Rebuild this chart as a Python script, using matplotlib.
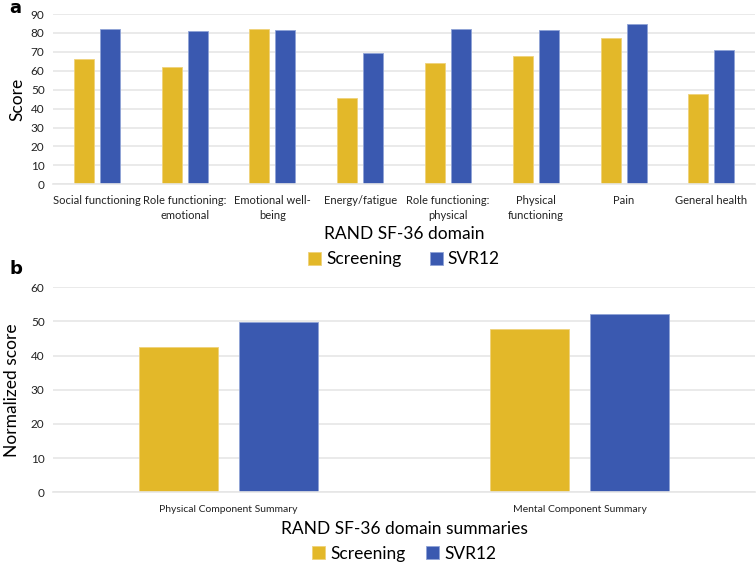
import matplotlib.pyplot as plt
import numpy as np

# panel a data
dominios = ['Social functioning', 'Role functioning:\nemotional', 'Emotional well-\nbeing',
            'Energy/fatigue', 'Role functioning:\nphysical', 'Physical\nfunctioning',
            'Pain', 'General health']
screening_a = [66.1, 62.1, 81.9, 45.8, 64.3, 67.9, 77.5, 47.8]
svr12_a = [82.3, 81.1, 81.5, 69.5, 82.2, 81.5, 84.8, 70.9]

# panel b data
resumos = ['Physical Component Summary', 'Mental Component Summary']
screening_b = [42.4, 47.8]
svr12_b = [49.8, 52.3]

amarelo = '#E3B829'
azul = '#3A59B0'
grade = '#E6E6E6'

plt.rcParams['font.family'] = ['Lato', 'DejaVu Sans']

fig = plt.figure(figsize=(7.56, 5.63), dpi=100)
ax1 = fig.add_axes([0.070, 0.6726, 0.929, 0.3025])
ax2 = fig.add_axes([0.070, 0.1256, 0.929, 0.3641])


def estilo(ax, ymax, passo):
    ax.set_ylim(0, ymax)
    ax.set_yticks(np.arange(0, ymax + 1, passo))
    ax.yaxis.grid(True, color=grade, linewidth=1.2)
    ax.set_axisbelow(True)
    for lado in ['top', 'right', 'left']:
        ax.spines[lado].set_visible(False)
    ax.spines['bottom'].set_color(grade)
    ax.spines['bottom'].set_linewidth(1.2)
    ax.tick_params(axis='both', length=0, colors='#222222')
    ax.tick_params(axis='y', labelsize=8.5, pad=6)


# painel a
x = np.arange(len(dominios))
w = 0.228
ax1.bar(x - 0.148, screening_a, w, color=amarelo, edgecolor='#EFD27A', linewidth=0.6, label='Screening')
ax1.bar(x + 0.148, svr12_a, w, color=azul, edgecolor='#8FA3D6', linewidth=0.6, label='SVR12')
ax1.set_xlim(-0.5, len(dominios) - 0.5)
estilo(ax1, 90, 10)
ax1.set_xticks(x)
ax1.set_xticklabels(dominios, fontsize=8, linespacing=1.35)
ax1.tick_params(axis='x', pad=8)
ax1.set_ylabel('Score', fontsize=12.5, labelpad=4)
ax1.set_xlabel('RAND SF-36 domain', fontsize=12.5, labelpad=4)
ax1.legend(loc='center', bbox_to_anchor=(0.5, -0.44), ncol=2, frameon=False, fontsize=12.5,
           handlelength=0.75, handleheight=0.75, handletextpad=0.3, columnspacing=1.6)

# painel b
xb = np.arange(len(resumos))
wb = 0.224
ax2.bar(xb - 0.142, screening_b, wb, color=amarelo, edgecolor='#EFD27A', linewidth=0.6, label='Screening')
ax2.bar(xb + 0.142, svr12_b, wb, color=azul, edgecolor='#8FA3D6', linewidth=0.6, label='SVR12')
ax2.set_xlim(-0.5, len(resumos) - 0.5)
estilo(ax2, 60, 10)
ax2.set_xticks(xb)
ax2.set_xticklabels(resumos, fontsize=7.5)
ax2.tick_params(axis='x', pad=9)
ax2.set_ylabel('Normalized score', fontsize=12.5, labelpad=8)
ax2.set_xlabel('RAND SF-36 domain summaries', fontsize=12.5, labelpad=5)
ax2.legend(loc='center', bbox_to_anchor=(0.5, -0.30), ncol=2, frameon=False, fontsize=12.5,
           handlelength=0.75, handleheight=0.75, handletextpad=0.3, columnspacing=1.2)

fig.text(0.012, 0.985, 'a', fontsize=13, fontweight='bold', va='center', family='DejaVu Sans')
fig.text(0.012, 0.523, 'b', fontsize=13, fontweight='bold', va='center', family='DejaVu Sans')

fig.savefig('out.png', dpi=100)
